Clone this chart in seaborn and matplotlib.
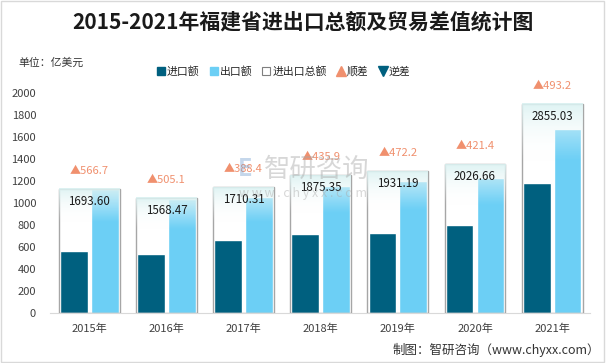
import matplotlib
matplotlib.use("Agg")
import matplotlib.pyplot as plt
from matplotlib.lines import Line2D
from matplotlib.patches import Rectangle
import numpy as np
import pandas as pd
import seaborn as sns

# data (亿美元)
years = ["2015年", "2016年", "2017年", "2018年", "2019年", "2020年", "2021年"]
imports = [563.5, 531.7, 660.9, 719.7, 729.5, 802.6, 1180.9]
exports = [1130.2, 1036.8, 1049.4, 1155.6, 1201.7, 1224.1, 1674.1]
totals = [1693.60, 1568.47, 1710.31, 1875.35, 1931.19, 2026.66, 2855.03]
surplus = [566.7, 505.1, 388.4, 435.9, 472.2, 421.4, 493.2]

c_imp = "#00607F"
c_exp = "#6CCFF5"
c_box = "#A6A6A6"
c_sur = "#F0906E"

sns.set_style("white")
plt.rcParams["font.family"] = ["Noto Sans CJK SC", "DejaVu Sans"]

df = pd.DataFrame({
    "year": years * 2,
    "value": imports + exports,
    "type": ["进口额"] * len(years) + ["出口额"] * len(years),
})

fig = plt.figure(figsize=(6.06, 3.63), dpi=100)
ax = fig.add_axes([0.0825, 0.138, 0.891, 0.606])

sns.barplot(data=df, x="year", y="value", hue="type", palette=[c_imp, c_exp],
            width=0.8, gap=0.1, saturation=1, legend=False, ax=ax)
ax.set_ylim(0, 2000)
ax.set_yticks(range(0, 2001, 200))
ax.set_xlim(-0.51, 6.49)
ax.set_xlabel("")
ax.set_ylabel("")
ax.tick_params(axis="y", labelsize=8, colors="#404040", length=0, pad=10)
ax.tick_params(axis="x", labelsize=8, colors="#404040", length=0, pad=8)
for s in ["top", "right", "left"]:
    ax.spines[s].set_visible(False)
ax.spines["bottom"].set_color("#D9D9D9")

# total box on a hidden secondary scale
ax2 = ax.twinx()
sns.barplot(x=years, y=totals, width=0.79, fill=False, color=c_box,
            linewidth=1, ax=ax2)
ax2.set_ylim(0, 3000)
ax2.set_xlim(-0.51, 6.49)
ax2.set_yticks([])
ax2.set_ylabel("")
for s in ax2.spines.values():
    s.set_visible(False)

# gradient on top part of each box
grad = np.zeros((50, 1, 4))
grad[:, 0, 0] = np.linspace(0.86, 1.0, 50)
grad[:, 0, 1] = np.linspace(0.95, 1.0, 50)
grad[:, 0, 2] = np.linspace(0.95, 1.0, 50)
grad[:, 0, 3] = np.linspace(0.92, 0.0, 50) ** 1.2
for p in list(ax2.patches):
    x0 = p.get_x()
    w = p.get_width()
    h = p.get_height()
    ax2.imshow(grad, extent=[x0, x0 + w, h * 0.72, h], aspect="auto",
               origin="upper", zorder=1.5, interpolation="bilinear")
ax2.set_xlim(-0.51, 6.49)
ax2.set_ylim(0, 3000)

for i, (t, d) in enumerate(zip(totals, surplus)):
    ax2.annotate(f"{t:.2f}", (i, t), xytext=(0, -9), textcoords="offset points",
                 ha="center", va="center", fontsize=8.3, color="#1a1a1a", zorder=5)
    ax2.annotate(f"▲{d}", (i, t), xytext=(0, 13), textcoords="offset points",
                 ha="center", va="center", fontsize=8, color=c_sur, zorder=5)

# watermark
fig.text(0.522, 0.534, "智研咨询", fontsize=19, color="#A8A8A8", alpha=0.45,
         ha="center", va="center")
fig.text(0.5, 0.466, "w w w . c h y x x . c o m", fontsize=9, color="#A8A8A8",
         alpha=0.45, ha="center", va="center")
fig.text(0.405, 0.534, "E", fontsize=17, color="#5A8FC8", alpha=0.35,
         ha="center", va="center", fontweight="bold")

fig.text(0.5, 0.94, "2015-2021年福建省进出口总额及贸易差值统计图", fontsize=15,
         fontweight="bold", ha="center", va="center", color="#1a1a1a")
fig.text(0.03, 0.826, "单位：亿美元", fontsize=7.8, ha="left", va="center",
         color="#333333")
fig.text(0.99, 0.035, "制图：智研咨询（www.chyxx.com）", fontsize=9,
         ha="right", va="center", color="#333333")

handles = [
    Line2D([], [], marker="s", color=c_imp, linestyle="", markersize=5.5),
    Line2D([], [], marker="s", color=c_exp, linestyle="", markersize=5.5),
    Line2D([], [], marker="s", markerfacecolor="white", markeredgecolor="#7F7F7F",
           linestyle="", markersize=5.5, markeredgewidth=0.8),
    Line2D([], [], marker="^", color=c_sur, linestyle="", markersize=6.5),
    Line2D([], [], marker="v", color=c_imp, linestyle="", markersize=6.5),
]
fig.legend(handles, ["进口额", "出口额", "进出口总额", "顺差", "逆差"],
           loc="center", bbox_to_anchor=(0.467, 0.803), ncol=5, frameon=False,
           fontsize=7.8, handletextpad=0.05, columnspacing=0.8, handlelength=1.0)

fig.add_artist(Rectangle((0.002, 0.003), 0.995, 0.994, transform=fig.transFigure,
                         fill=False, edgecolor="#D9D9D9", linewidth=1))

fig.savefig("out.png", dpi=100)
